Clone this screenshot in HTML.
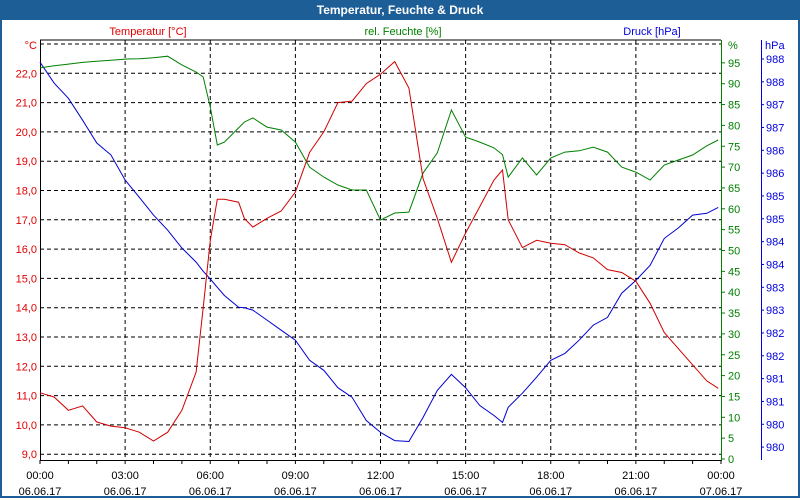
<!DOCTYPE html>
<html><head><meta charset="utf-8"><style>
body{margin:0;width:800px;height:500px;overflow:hidden;background:#fff;font-family:"Liberation Sans","DejaVu Sans",sans-serif}
#frame{position:absolute;left:0;top:0;width:796px;height:496px;border:2px solid #1d5e97;border-top:none}
#title{position:absolute;left:0;top:0;width:800px;height:20px;background:#1d5e97;color:#fff;font-weight:bold;font-size:12px;text-align:center;line-height:21px}
svg{position:absolute;left:0;top:0}
</style></head><body>
<div id="frame"></div>
<div id="title">Temperatur, Feuchte &amp; Druck</div>
<svg id="chart" width="800" height="500"></svg>
<script>
const hours=[0,0.5,1,1.5,2,2.5,3,3.5,4,4.5,5,5.5,5.75,6,6.25,6.5,7,7.2,7.5,8,8.5,9,9.5,10,10.5,11,11.5,12,12.5,13,13.5,14,14.5,15,15.5,16,16.3,16.5,17,17.5,18,18.5,19,19.5,20,20.5,21,21.5,22,22.5,23,23.5,23.9];
const tempVals=[11.1,10.95,10.5,10.65,10.1,9.96,9.9,9.75,9.45,9.75,10.5,11.8,14.0,16.3,17.7,17.7,17.6,17.05,16.75,17.05,17.3,17.95,19.3,20.0,21.0,21.05,21.65,21.97,22.4,21.5,18.4,17.05,15.55,16.55,17.45,18.36,18.7,17.0,16.05,16.3,16.2,16.15,15.87,15.7,15.3,15.2,14.9,14.15,13.15,12.6,12.05,11.5,11.25];
const humVals=[93.8,94.3,94.7,95.1,95.4,95.6,95.9,96.0,96.2,96.6,94.5,92.8,91.6,84.4,75.3,76,79.4,80.8,81.8,79.6,78.9,76,70,67.6,65.7,64.5,64.5,57.3,59,59.2,68.6,73.4,83.7,77.2,76,74.6,73,67.6,72.2,68.1,72.2,73.6,73.9,74.8,73.6,70,68.8,66.9,70.5,71.7,72.9,75.1,76.5];
const presVals=[987.93,987.47,987.14,986.66,986.16,985.9,985.35,984.97,984.58,984.25,983.86,983.55,983.35,983.18,983.0,982.82,982.56,982.55,982.5,982.28,982.06,981.84,981.4,981.18,980.8,980.59,980.08,979.82,979.64,979.62,980.15,980.74,981.09,980.8,980.41,980.19,980.04,980.37,980.68,981.03,981.4,981.55,981.84,982.17,982.34,982.87,983.15,983.48,984.07,984.3,984.58,984.62,984.75];
const tempTicks=["22,0","21,0","20,0","19,0","18,0","17,0","16,0","15,0","14,0","13,0","12,0","11,0","10,0","9,0"];
const humTicks=[95,90,85,80,75,70,65,60,55,50,45,40,35,30,25,20,15,10,5,0];
const presTicks=["988","988","987","987","986","986","985","985","984","984","983","983","982","982","981","981","980","980"];
const timeLabels=["00:00","03:00","06:00","09:00","12:00","15:00","18:00","21:00","00:00"];
const dateLabels=["06.06.17","06.06.17","06.06.17","06.06.17","06.06.17","06.06.17","06.06.17","06.06.17","07.06.17"];

const L=40,R=721,T=40,B=460;
const xS=h=>L+(R-L)*h/24;
const yT=v=>44+(23-v)*29.3;
const yH=v=>459-v*4.17;
const yP=v=>59+(988-v)*45.65;
const svg=document.getElementById('chart');
const NS="http://www.w3.org/2000/svg";
function mk(tag,attrs,parent){const e=document.createElementNS(NS,tag);for(const k in attrs)e.setAttribute(k,attrs[k]);(parent||svg).appendChild(e);return e;}
function txt(s,x,y,fill,anchor){const e=mk('text',{x:x,y:y,fill:fill,'font-size':11,'text-anchor':anchor||'start'});e.textContent=s;return e;}

// grid horizontal
for(let v=23;v>=9;v--){const l=mk('line',{x1:L,x2:R,y1:yT(v),y2:yT(v),stroke:'#000','stroke-dasharray':'4,3'});

}
for(let i=1;i<8;i++){const l=mk('line',{x1:xS(i*3),x2:xS(i*3),y1:T,y2:B,stroke:'#000','stroke-dasharray':'4,3'});

}
// frame
mk('line',{x1:L,x2:R,y1:T,y2:T,stroke:'#000'});
let e=mk('line',{x1:L+0.5,x2:L+0.5,y1:T,y2:B+1,stroke:'#000'});


e=mk('line',{x1:L,x2:R,y1:B+0.5,y2:B+0.5,stroke:'#000'});


e=mk('line',{x1:R+0.5,x2:R+0.5,y1:T,y2:B+1,stroke:'#008000'});


e=mk('line',{x1:761.5,x2:761.5,y1:T,y2:B,stroke:'#0000e0'});


// x ticks
for(let h=0;h<=24;h++){mk('line',{x1:xS(h),x2:xS(h),y1:B,y2:B+4,stroke:'#000'});}
timeLabels.forEach((s,i)=>{let t=txt(s,xS(i*3),479,'#000','middle');


t=txt(dateLabels[i],xS(i*3),495,'#000','middle');

});
// temp labels
tempTicks.forEach((s,i)=>{const t=txt(s,37,yT(22-i)+4,'#e00000','end');

});
e=txt('°C',37,49,'#e00000','end');


// humidity ticks
humTicks.forEach(v=>{mk('line',{x1:R,x2:R+4,y1:yH(v),y2:yH(v),stroke:'#008000'});
const t=txt(String(v),728,yH(v)+4,'#008000');

});
e=txt('%',728,49,'#008000');


// pressure ticks
presTicks.forEach((s,i)=>{const y=59+i*22.83;mk('line',{x1:761,x2:764,y1:y,y2:y,stroke:'#0000e0'});
const t=txt(s,766,y+4,'#0000e0');

});
e=txt('hPa',765,49,'#0000e0');


// series titles
e=txt('Temperatur [°C]',148,35,'#e00000','middle');


e=txt('rel. Feuchte [%]',403,35,'#008000','middle');


e=txt('Druck [hPa]',652,35,'#0000e0','middle');


// series lines
function pts(vals,yf){return vals.map((v,i)=>xS(hours[i]).toFixed(1)+','+yf(v).toFixed(1)).join(' ');}
e=mk('polyline',{points:pts(presVals,yP),fill:'none',stroke:'#0000d0','stroke-width':1});


e=mk('polyline',{points:pts(humVals,yH),fill:'none',stroke:'#008000','stroke-width':1});


e=mk('polyline',{points:pts(tempVals,yT),fill:'none',stroke:'#d00000','stroke-width':1});


</script>
</body></html>
